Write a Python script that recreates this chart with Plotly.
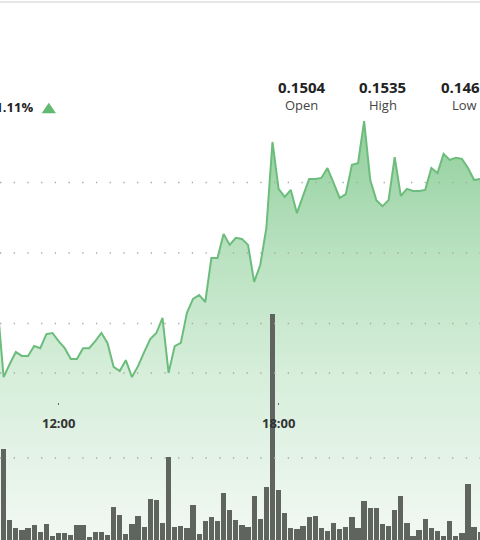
import pandas as pd
import plotly.graph_objects as go

# ---- data -------------------------------------------------------------
price_times = pd.date_range("2024-01-15 10:20", "2024-01-15 23:40", freq="10min")
price = [
    0.14852, 0.14648, 0.14685, 0.14719, 0.14708, 0.14708, 0.14736, 0.14730, 0.14770, 0.14773,
    0.14750, 0.14730, 0.14699, 0.14699, 0.14730, 0.14730, 0.14750, 0.14773, 0.14745, 0.14677,
    0.14665, 0.14696, 0.14648, 0.14679, 0.14719, 0.14756, 0.14773, 0.14816, 0.14660, 0.14736,
    0.14745, 0.14830, 0.14870, 0.14881, 0.14861, 0.14986, 0.14986, 0.15054, 0.15023, 0.15043,
    0.15040, 0.15023, 0.14918, 0.14966, 0.15071, 0.15315, 0.15182, 0.15159, 0.15179, 0.15113,
    0.15162, 0.15210, 0.15210, 0.15213, 0.15241, 0.15199, 0.15156, 0.15167, 0.15250, 0.15255,
    0.15374, 0.15207, 0.15150, 0.15133, 0.15150, 0.15272, 0.15162, 0.15182, 0.15176, 0.15176,
    0.15179, 0.15241, 0.15227, 0.15281, 0.15264, 0.15270, 0.15267, 0.15241, 0.15207, 0.15210,
    0.15221,
]
volume_times = price_times[:80]
volume = [
    0.106, 1.102, 0.271, 0.173, 0.153, 0.180, 0.208, 0.129, 0.220, 0.086,
    0.118, 0.118, 0.094, 0.208, 0.208, 0.067, 0.133, 0.133, 0.091, 0.420,
    0.329, 0.102, 0.220, 0.318, 0.192, 0.518, 0.502, 0.232, 1.015, 0.185,
    0.200, 0.173, 0.447, 0.102, 0.262, 0.309, 0.259, 0.592, 0.385, 0.271,
    0.215, 0.185, 0.556, 0.286, 0.659, 2.694, 0.624, 0.356, 0.180, 0.165,
    0.204, 0.306, 0.314, 0.176, 0.145, 0.232, 0.161, 0.192, 0.309, 0.173,
    0.498, 0.412, 0.412, 0.224, 0.200, 0.392, 0.556, 0.232, 0.082, 0.153,
    0.286, 0.173, 0.141, 0.082, 0.255, 0.082, 0.121, 0.691, 0.185, 0.133,
]
tick_times = ["2024-01-15 12:00", "2024-01-15 18:00"]
tick_labels = ["12:00", "18:00"]
price_grid = [0.148, 0.150, 0.152]
volume_grid = [1, 2]
header_values = ["0.1504", "0.1535", "0.1465"]
header_labels = ["Open", "High", "Low"]
change_text = "+1.11%"

# ---- layout constants -------------------------------------------------
W, H = 480, 540
price_range = [0.141858, 0.157177]
volume_range = [0.0353, 6.388]
x_range = ["2024-01-15 10:24:06", "2024-01-15 23:29:36"]
AXIS_Y = 1 - 402 / H
LABEL_Y = 1 - 423 / H

fig = go.Figure()
fig.add_trace(go.Scatter(
    x=price_times, y=price, mode="lines",
    line=dict(color="#6cbc7c", width=2),
    fill="tozeroy",
    fillgradient=dict(
        type="vertical", start=price_range[0], stop=0.1537,
        colorscale=[[0, "rgb(242,248,243)"], [0.4, "rgb(214,238,218)"],
                    [0.7, "rgb(184,225,191)"], [1, "rgb(145,207,156)"]],
    ),
    hoverinfo="skip", showlegend=False, yaxis="y",
))
fig.add_trace(go.Bar(
    x=volume_times, y=volume, width=520000,
    marker=dict(color="#5f645f", line=dict(width=0)),
    hoverinfo="skip", showlegend=False, yaxis="y2",
))

hidden = dict(showgrid=False, showticklabels=False, zeroline=False, showline=False, ticks="")
fig.update_layout(
    width=W, height=H, margin=dict(l=0, r=0, t=0, b=0),
    paper_bgcolor="white", plot_bgcolor="white",
    font=dict(family="Open Sans", color="#333"),
    xaxis=dict(range=x_range, type="date", showgrid=False, zeroline=False, showline=False,
               anchor="free", position=AXIS_Y,
               tickmode="array", tickvals=tick_times, showticklabels=False,
               ticks="outside", ticklen=2, tickwidth=1, tickcolor="#666"),
    yaxis=dict(range=price_range, **hidden),
    yaxis2=dict(range=volume_range, overlaying="y", **hidden),
    bargap=0,
)

# dotted gridlines drawn above the area fill (as in the reference)
grid_line = dict(color="#a8a8a8", width=1.3, dash="1.3px,12.4px")
for v in price_grid:
    fig.add_shape(type="line", xref="paper", x0=0, x1=1, yref="y", y0=v, y1=v,
                  line=grid_line, layer="above")
for v in volume_grid:
    fig.add_shape(type="line", xref="paper", x0=0, x1=1, yref="y2", y0=v, y1=v,
                  line=grid_line, layer="above")

# time tick labels (above the volume bars)
for t, lab in zip(tick_times, tick_labels):
    fig.add_annotation(x=t, xref="x", y=LABEL_Y, yref="paper", text=f"<b>{lab}</b>",
                       showarrow=False, xanchor="center", yanchor="middle",
                       font=dict(family="Open Sans", size=13, color="#333"))

# header texts
cols = [301.7, 382.7, 464.0]
for cx, val, lab in zip(cols, header_values, header_labels):
    fig.add_annotation(x=cx / W, y=1 - 86.5 / H, xref="paper", yref="paper",
                       text=f"<b>{val}</b>", showarrow=False, xanchor="center", yanchor="middle",
                       font=dict(family="Open Sans", size=15, color="#222"))
    fig.add_annotation(x=cx / W, y=1 - 105 / H, xref="paper", yref="paper",
                       text=lab, showarrow=False, xanchor="center", yanchor="middle",
                       font=dict(family="Open Sans", size=13, color="#444"))
fig.add_annotation(x=35 / W, y=1 - 107 / H, xref="paper", yref="paper",
                   text=f"<b>{change_text}</b>", showarrow=False, xanchor="right", yanchor="middle",
                   font=dict(family="Open Sans", size=13, color="#222"))
# up triangle
fig.add_shape(type="path", xref="paper", yref="paper",
              path=f"M {41.7/W} {1-113.3/H} L {56/W} {1-113.3/H} L {48.85/W} {1-102.7/H} Z",
              fillcolor="#62b971", line=dict(width=0))
# top border line
fig.add_shape(type="rect", xref="paper", yref="paper", x0=0, x1=1, y0=1 - 3 / H, y1=1 - 1 / H,
              fillcolor="#e6e6e6", line=dict(width=0), layer="above")

fig.write_html("out.html", config={"displayModeBar": False, "staticPlot": True},
               post_script="document.body.style.margin='0';document.body.style.overflow='hidden';")
